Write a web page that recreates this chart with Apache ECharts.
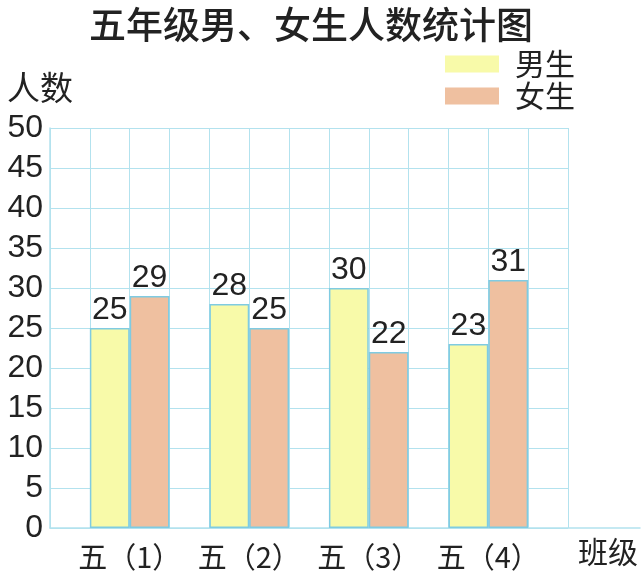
<!DOCTYPE html>
<html>
<head>
<meta charset="utf-8">
<script src="https://cdn.jsdelivr.net/npm/echarts@6/dist/echarts.min.js"></script>
<style>html,body{margin:0;padding:0;background:#fff;}#c{width:644px;height:574px;}</style>
</head>
<body>
<div id="c"></div>
<script>
const categories = ['五（1）', '五（2）', '五（3）', '五（4）'];
const boys = [25, 28, 30, 23];
const girls = [29, 25, 22, 31];
const seriesNames = ['男生', '女生'];
const titleText = '五年级男、女生人数统计图';
const yName = '人数';
const xName = '班级';

const gridColor = '#b3e2ee';
const borderColor = '#7fcbe2';
const numFont = 'Liberation Sans';
const cjkFont = 'Noto Sans CJK SC';

const chart = echarts.init(document.getElementById('c'), null, {renderer: 'canvas'});
const gTop = 128, gHeight = 400;
const left0 = 50, width0 = 518;
const cw = width0 / 13;

chart.setOption({
  animation: false,
  backgroundColor: '#fff',
  title: {
    text: titleText, left: 84, top: 1,
    textStyle: {fontFamily: cjkFont, fontSize: 37, fontWeight: 500, color: '#222'}
  },
  legend: {
    data: seriesNames, orient: 'vertical', left: 440, top: 44,
    itemWidth: 54, itemHeight: 17, itemGap: 2, icon: 'rect',
    itemStyle: {borderWidth: 0},
    textStyle: {fontFamily: cjkFont, fontSize: 30, color: '#222', padding: [0, 0, 0, 11], lineHeight: 30}
  },
  grid: [
    {left: left0, top: gTop, width: width0, height: gHeight},
    {left: left0 + cw / 2, top: gTop, width: cw * 12, height: gHeight},
    {left: left0, top: gTop, width: 590, height: gHeight}
  ],
  xAxis: [
    {gridIndex: 0, type: 'value', min: 0, max: 13, interval: 1,
     axisLine: {show: false}, axisTick: {show: false}, axisLabel: {show: false},
     splitLine: {show: true, lineStyle: {color: gridColor, width: 1}},
     name: xName, nameLocation: 'end', nameGap: 10,
     nameTextStyle: {fontFamily: cjkFont, fontSize: 30, color: '#222', verticalAlign: 'top', padding: [9, 0, 0, 0]}},
    {gridIndex: 1, type: 'category', data: categories,
     axisLine: {show: false}, axisTick: {show: false},
     axisLabel: {interval: 0, fontFamily: cjkFont, fontSize: 29, color: '#222', margin: 14},
     splitLine: {show: false}},
    {gridIndex: 2, type: 'value', min: 0, max: 1,
     axisLine: {show: true, lineStyle: {color: gridColor, width: 1.5}},
     axisTick: {show: false}, axisLabel: {show: false}, splitLine: {show: false}}
  ],
  yAxis: [
    {gridIndex: 0, type: 'value', min: 0, max: 50, interval: 5,
     axisLine: {show: true, lineStyle: {color: gridColor, width: 1.5}},
     axisTick: {show: false},
     axisLabel: {fontFamily: numFont, fontSize: 32, color: '#222', margin: 7},
     splitLine: {show: true, lineStyle: {color: gridColor, width: 1}},
     name: yName, nameLocation: 'end', nameGap: 24,
     nameTextStyle: {fontFamily: cjkFont, fontSize: 33, color: '#222', align: 'center', padding: [0, 20, 0, 0]}},
    {gridIndex: 1, type: 'value', min: 0, max: 50, interval: 5, show: false},
    {gridIndex: 2, type: 'value', min: 0, max: 50, show: false}
  ],
  series: [
    {name: seriesNames[0], type: 'bar', xAxisIndex: 1, yAxisIndex: 1, data: boys,
     barGap: '0%', barCategoryGap: '33.333%',
     itemStyle: {color: '#f8faa9', borderColor: borderColor, borderWidth: 1.5},
     label: {show: true, position: 'top', distance: 2, fontFamily: numFont, fontSize: 32, color: '#222'}},
    {name: seriesNames[1], type: 'bar', xAxisIndex: 1, yAxisIndex: 1, data: girls,
     barGap: '0%', barCategoryGap: '33.333%',
     itemStyle: {color: '#efc0a0', borderColor: borderColor, borderWidth: 1.5},
     label: {show: true, position: 'top', distance: 2, fontFamily: numFont, fontSize: 32, color: '#222'}}
  ]
});
</script>
</body>
</html>
